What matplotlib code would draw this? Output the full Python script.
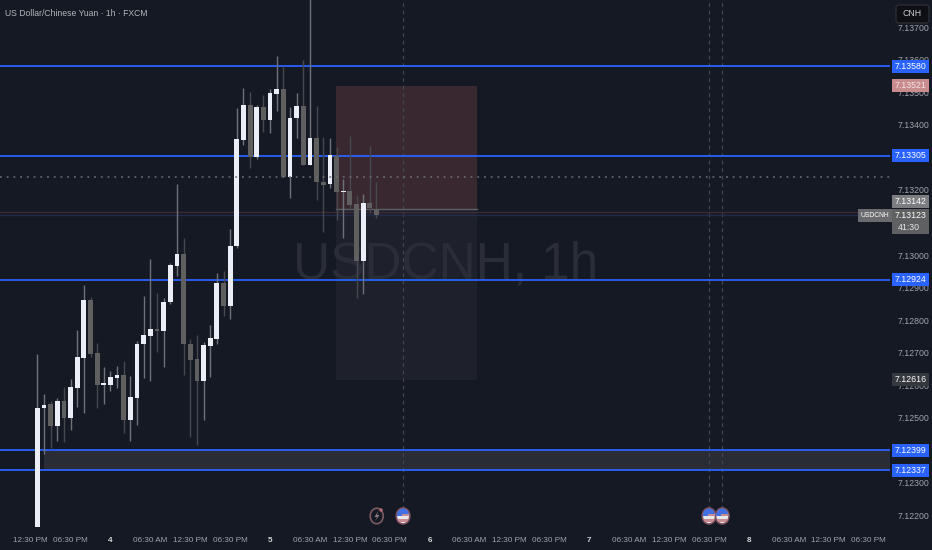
import matplotlib
matplotlib.use("Agg")
from matplotlib import pyplot as plt
from matplotlib.patches import Rectangle, Ellipse, FancyBboxPatch, Polygon

plt.rcParams["font.family"] = ["Liberation Sans", "DejaVu Sans"]

#candles, one per hour
opens = [7.12164, 7.12528, 7.12541, 7.12475, 7.12551, 7.12498, 7.12592, 7.12684, 7.12861, 7.12698,
         7.12601, 7.12601, 7.12622, 7.12631, 7.12491, 7.12561, 7.12725, 7.12752, 7.12771, 7.12767,
         7.12854, 7.12967, 7.13002, 7.12726, 7.12680, 7.12611, 7.12720, 7.12741, 7.12915, 7.12843,
         7.13028, 7.13354, 7.13462, 7.13301, 7.13456, 7.13414, 7.13496, 7.13511, 7.13241, 7.13421,
         7.13458, 7.13278, 7.13361, 7.13226, 7.13218, 7.13305, 7.13194, 7.13196, 7.13156, 7.12981,
         7.13160, 7.13142]
closes = [7.12530, 7.12539, 7.12475, 7.12551, 7.12498, 7.12593, 7.12686, 7.12861, 7.12696, 7.12601,
          7.12603, 7.12624, 7.12631, 7.12491, 7.12563, 7.12726, 7.12753, 7.12771, 7.12767, 7.12855,
          7.12969, 7.13002, 7.12725, 7.12678, 7.12611, 7.12722, 7.12744, 7.12915, 7.12843, 7.13029,
          7.13356, 7.13462, 7.13301, 7.13456, 7.13414, 7.13498, 7.13511, 7.13240, 7.13422, 7.13458,
          7.13278, 7.13361, 7.13224, 7.13216, 7.13307, 7.13195, 7.13197, 7.13155, 7.12981, 7.13160,
          7.13145, 7.13124]
highs = [7.12695, 7.12572, 7.12551, 7.12559, 7.12594, 7.12619, 7.12768, 7.12908, 7.12870, 7.12730,
         7.12654, 7.12643, 7.12658, 7.12674, 7.12629, 7.12735, 7.12875, 7.12987, 7.12884, 7.12869,
         7.12974, 7.13218, 7.13053, 7.12741, 7.12753, 7.12731, 7.12785, 7.12946, 7.12952, 7.13080,
         7.13451, 7.13513, 7.13501, 7.13462, 7.13492, 7.13510, 7.13612, 7.13582, 7.13456, 7.13498,
         7.13600, 7.13830, 7.13458, 7.13362, 7.13359, 7.13332, 7.13234, 7.13366, 7.13185, 7.13187,
         7.13335, 7.13226]
lows = [7.12164, 7.12389, 7.12407, 7.12428, 7.12426, 7.12462, 7.12532, 7.12514, 7.12687, 7.12528,
        7.12542, 7.12581, 7.12591, 7.12451, 7.12428, 7.12478, 7.12622, 7.12613, 7.12701, 7.12656,
        7.12849, 7.12935, 7.12631, 7.12441, 7.12415, 7.12493, 7.12624, 7.12726, 7.12812, 7.12804,
        7.13021, 7.13339, 7.13267, 7.13296, 7.13379, 7.13376, 7.13444, 7.13240, 7.13175, 7.13359,
        7.13278, 7.13278, 7.13169, 7.13070, 7.13207, 7.13108, 7.13051, 7.13138, 7.12869, 7.12881,
        7.13129, 7.13114]

levels = [7.13580, 7.13305, 7.12924, 7.12399, 7.12337]
stop_price = 7.13521
entry_price = 7.13142
target_price = 7.12616
last_price = 7.13123
prev_price = 7.13133
dotted_price = 7.13240

#7.124, 7.131 and 7.133 sit fully behind price labels in the reference
price_ticks = [7.122, 7.123, 7.125, 7.126, 7.127, 7.128, 7.129, 7.130, 7.132,
               7.134, 7.135, 7.136, 7.137]
time_labels = ["12:30 PM", "06:30 PM", "4", "06:30 AM", "12:30 PM", "06:30 PM", "5", "06:30 AM",
               "12:30 PM", "06:30 PM", "6", "06:30 AM", "12:30 PM", "06:30 PM", "7", "06:30 AM",
               "12:30 PM", "06:30 PM", "8", "06:30 AM", "12:30 PM", "06:30 PM"]
time_ticks = [-1 + 6 * k for k in range(len(time_labels))]
event_bars = [55, 101, 103]

BG = "#151924"
BLUE = "#2962ff"
WHITE = "#eceef7"
GREY = "#5f5f5f"
LABEL_SIZE = 6.3

fig = plt.figure(figsize=(9.32, 5.5), dpi=100, facecolor=BG)
ax = fig.add_axes([0, 23 / 550, 890 / 932, 527 / 550], facecolor=BG)
ax.set_xlim(-5.609, 128.22)
ax.set_ylim(7.121631, 7.137846)
for s in ax.spines.values():
    s.set_visible(False)

ax.yaxis.tick_right()
ax.set_yticks(price_ticks)
ax.set_yticklabels(["%.5f" % p for p in price_ticks])
ax.set_xticks(time_ticks)
ax.set_xticklabels(time_labels)
ax.tick_params(axis="y", length=0, pad=5.5, labelsize=LABEL_SIZE, labelcolor="#a0a3a9")
ax.tick_params(axis="x", length=0, pad=7, labelsize=5.9, labelcolor="#a0a3a9")
for lab in ax.get_xticklabels():
    if len(lab.get_text()) == 1:
        lab.set_color("#d0d2d6")
        lab.set_fontweight("bold")

#position tool
ax.add_patch(Rectangle((44.9, entry_price), 21.2, stop_price - entry_price, color="#3a2831", lw=0, zorder=1.5))
ax.add_patch(Rectangle((44.9, target_price), 21.2, entry_price - target_price, color="#1e212c", lw=0, zorder=1.2))
ax.plot([44.9, 66.1], [entry_price, entry_price], color="#5c6264", lw=1, zorder=2)

#watermark
ax.text(0.501, 0.497, "USDCNH, 1h", transform=ax.transAxes, ha="center", va="center", fontsize=37,
        color="#2a2d38", zorder=1.3)

#zone between the two lower levels
ax.add_patch(Rectangle((1, levels[4]), 128, levels[3] - levels[4], color="#2a2c35", lw=0, zorder=1.5))

ax.axhline(prev_price, color="#3a2a35", lw=1, zorder=2)
ax.axhline(last_price, color="#232b4c", lw=1, zorder=2)

for b in event_bars:
    ax.plot([b, b], [7.1222, 7.1379], color="#42454d", lw=0.9, ls=(0, (3, 3)), zorder=1.6)

#candles
for i in range(len(opens)):
    up = closes[i] >= opens[i]
    ax.vlines(i, lows[i], highs[i], color="#6f7178" if up else "#47484d", lw=1, zorder=3)
    bottom = min(opens[i], closes[i])
    ax.bar(i, max(abs(closes[i] - opens[i]), 0.00004), bottom=bottom, width=0.72,
           color=WHITE if up else GREY, lw=0, zorder=3.5)

for p in levels:
    ax.axhline(p, color=BLUE, lw=1.3, zorder=2.6)
ax.axhline(dotted_price, color="#6d6f74", lw=1.1, ls=(0, (1.2, 3.2)), zorder=4)

#overlay in pixels for the labels on the price scale
ui = fig.add_axes([0, 0, 1, 1], facecolor="none")
ui.set_xlim(0, 932)
ui.set_ylim(550, 0)
ui.axis("off")


def py(price):
    return 550 - ax.transData.transform((0, price))[1]


def priceLabel(price, color, textcolor="#ffffff", shift=0):
    y = py(price) + shift
    ui.add_patch(Rectangle((892, y - 6.5), 37, 13, color=color, lw=0))
    ui.text(910.5, y, "%.5f" % price, color=textcolor, ha="center", va="center", fontsize=LABEL_SIZE)


for p in levels:
    priceLabel(p, BLUE)
priceLabel(stop_price, "#c98c8e", "#f3e4e4")
#pushed up so it clears the last price label, as the reference does
priceLabel(entry_price, "#7b7d80", shift=-7.5)
priceLabel(target_price, "#363840")

y = py(last_price)
ui.add_patch(Rectangle((892, y - 6), 37, 25, color="#5f6062", lw=0))
ui.text(910.5, y, "%.5f" % last_price, color="#ffffff", ha="center", va="center", fontsize=LABEL_SIZE)
ui.text(898, y + 12.5, "41:30", color="#e4e4e4", ha="left", va="center", fontsize=LABEL_SIZE)
ui.add_patch(Rectangle((858, y - 6), 34, 13, color="#6a6b6e", lw=0))
ui.text(875, y + 0.5, "USDCNH", color="#ffffff", ha="center", va="center", fontsize=4.9)

ui.add_patch(FancyBboxPatch((896, 5), 33, 18, boxstyle="round,pad=0,rounding_size=3",
                            fc="#0e0f14", ec="#2a2c33", lw=1))
ui.text(912, 13.5, "CNH", color="#c8c9cc", ha="center", va="center", fontsize=LABEL_SIZE)

ui.text(5, 13.5, "US Dollar/Chinese Yuan \u00b7 1h \u00b7 FXCM", color="#b4b6bb", ha="left", va="center",
        fontsize=6.2)

#event icons
ICON_Y = 516
for b in event_bars:
    x = ax.transData.transform((b, 7.13))[0]
    ui.add_patch(Ellipse((x, ICON_Y), 13.5, 16, fc="#e8e8ec", ec="#7d4f5a", lw=1.2, zorder=5))
    top = Rectangle((x - 7, ICON_Y - 8), 14, 8, color="#3f6fe0", lw=0, zorder=5.1)
    ui.add_patch(top)
    top.set_clip_path(Ellipse((x, ICON_Y), 12.5, 15, transform=ui.transData))
    red = Rectangle((x - 7, ICON_Y + 3), 14, 2.5, color="#c98b92", lw=0, zorder=5.1)
    ui.add_patch(red)
    red.set_clip_path(Ellipse((x, ICON_Y), 12.5, 15, transform=ui.transData))
    red2 = Rectangle((x - 1, ICON_Y - 2), 8, 2, color="#c98b92", lw=0, zorder=5.2)
    ui.add_patch(red2)
    red2.set_clip_path(Ellipse((x, ICON_Y), 12.5, 15, transform=ui.transData))

ui.add_patch(Ellipse((376.7, ICON_Y), 13, 15.5, fc=BG, ec="#7d5a60", lw=1.2, zorder=5))
ui.add_patch(Polygon([(378.5, 511), (374.5, 517), (377, 517), (375, 521), (379.5, 515), (377, 515)],
                     closed=True, fc="#8d7f84", lw=0, zorder=5.1))
ui.add_patch(Ellipse((381, 510), 3.5, 3.5, fc="#b06a72", lw=0, zorder=5.2))

fig.savefig("out.png", dpi=100, facecolor=BG)
